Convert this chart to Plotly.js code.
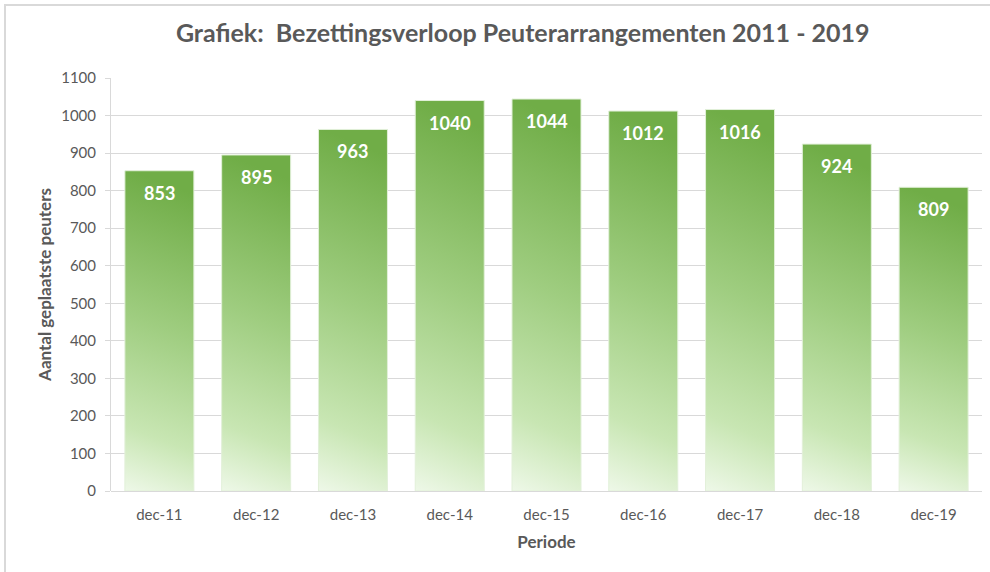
<!DOCTYPE html>
<html>
<head>
<meta charset="utf-8">
<script src="https://cdn.plot.ly/plotly-3.0.1.min.js"></script>
<style>
  html, body { margin: 0; padding: 0; background: #fff; }
  #wrap { position: relative; width: 990px; height: 572px; overflow: hidden; }
  #chart { width: 990px; height: 572px; }
  #frame { position: absolute; left: 4px; top: 4px; width: 1200px; height: 800px;
           border-left: 2px solid #d9d9d9; border-top: 2px solid #d9d9d9; pointer-events: none; }
</style>
</head>
<body>
<div id="wrap">
  <div id="chart"></div>
  <div id="frame"></div>
</div>
<script>
const categories = ["dec-11", "dec-12", "dec-13", "dec-14", "dec-15", "dec-16", "dec-17", "dec-18", "dec-19"];
const values = [853, 895, 963, 1040, 1044, 1012, 1016, 924, 809];
const yTicks = [0, 100, 200, 300, 400, 500, 600, 700, 800, 900, 1000, 1100];

const FONT = "Lato, 'Open Sans', sans-serif";
const GREY = "#595959";

const trace = {
  type: "bar",
  x: categories,
  y: values,
  marker: { color: "#8cc36a", line: { color: "#e2f0d9", width: 1 } },
  hoverinfo: "x+y"
};

const annotations = categories.map((c, i) => ({
  x: c, y: values[i], xref: "x", yref: "y",
  text: String(values[i]), showarrow: false,
  yanchor: "middle", yshift: -22,
  font: { family: FONT, size: 18, color: "#ffffff", weight: "bold" }
}));

const layout = {
  width: 990, height: 572,
  margin: { l: 111, r: 8, t: 78, b: 81 },
  paper_bgcolor: "rgba(0,0,0,0)",
  plot_bgcolor: "#ffffff",
  bargap: 0.287,
  showlegend: false,
  title: {
    text: "Grafiek:  Bezettingsverloop Peuterarrangementen 2011 - 2019",
    font: { family: FONT, size: 25, color: GREY, weight: "bold" },
    x: 0.528, xanchor: "center", y: 0.942, yanchor: "middle"
  },
  xaxis: {
    type: "category",
    tickfont: { family: FONT, size: 15, color: GREY },
    showgrid: false, showline: false, ticks: "",
    ticklabelstandoff: 13,
    title: { text: "Periode", font: { family: FONT, size: 17, color: GREY, weight: "bold" }, standoff: 14 }
  },
  yaxis: {
    range: [0, 1100],
    tickvals: yTicks,
    tickfont: { family: FONT, size: 15, color: GREY },
    showgrid: true, gridcolor: "#d9d9d9", gridwidth: 1,
    showline: true, linecolor: "#d9d9d9", linewidth: 1,
    ticks: "outside", ticklen: 5, tickcolor: "#d9d9d9",
    zeroline: true, zerolinecolor: "#d9d9d9",
    ticklabelstandoff: 6,
    title: { text: "Aantal geplaatste peuters", font: { family: FONT, size: 17, color: GREY, weight: "bold" }, standoff: 5 }
  },
  annotations: annotations
};

Plotly.newPlot("chart", [trace], layout, { displayModeBar: false, staticPlot: true }).then(gd => {
  const svgNS = "http://www.w3.org/2000/svg";
  const svg = gd.querySelector("svg.main-svg");
  let defs = svg.querySelector("defs");
  if (!defs) { defs = document.createElementNS(svgNS, "defs"); svg.insertBefore(defs, svg.firstChild); }
  const grad = document.createElementNS(svgNS, "linearGradient");
  grad.setAttribute("id", "barGrad");
  grad.setAttribute("x1", "0.08"); grad.setAttribute("y1", "0");
  grad.setAttribute("x2", "0"); grad.setAttribute("y2", "1");
  [["0", "#70ad47"], ["0.45", "#9fcd80"], ["0.8", "#c8e6b3"], ["1", "#eef8e8"]].forEach(([o, c]) => {
    const s = document.createElementNS(svgNS, "stop");
    s.setAttribute("offset", o); s.setAttribute("stop-color", c);
    grad.appendChild(s);
  });
  defs.appendChild(grad);
  gd.querySelectorAll(".barlayer .point path").forEach(p => { p.style.fill = "url(#barGrad)"; });
});
</script>
</body>
</html>
